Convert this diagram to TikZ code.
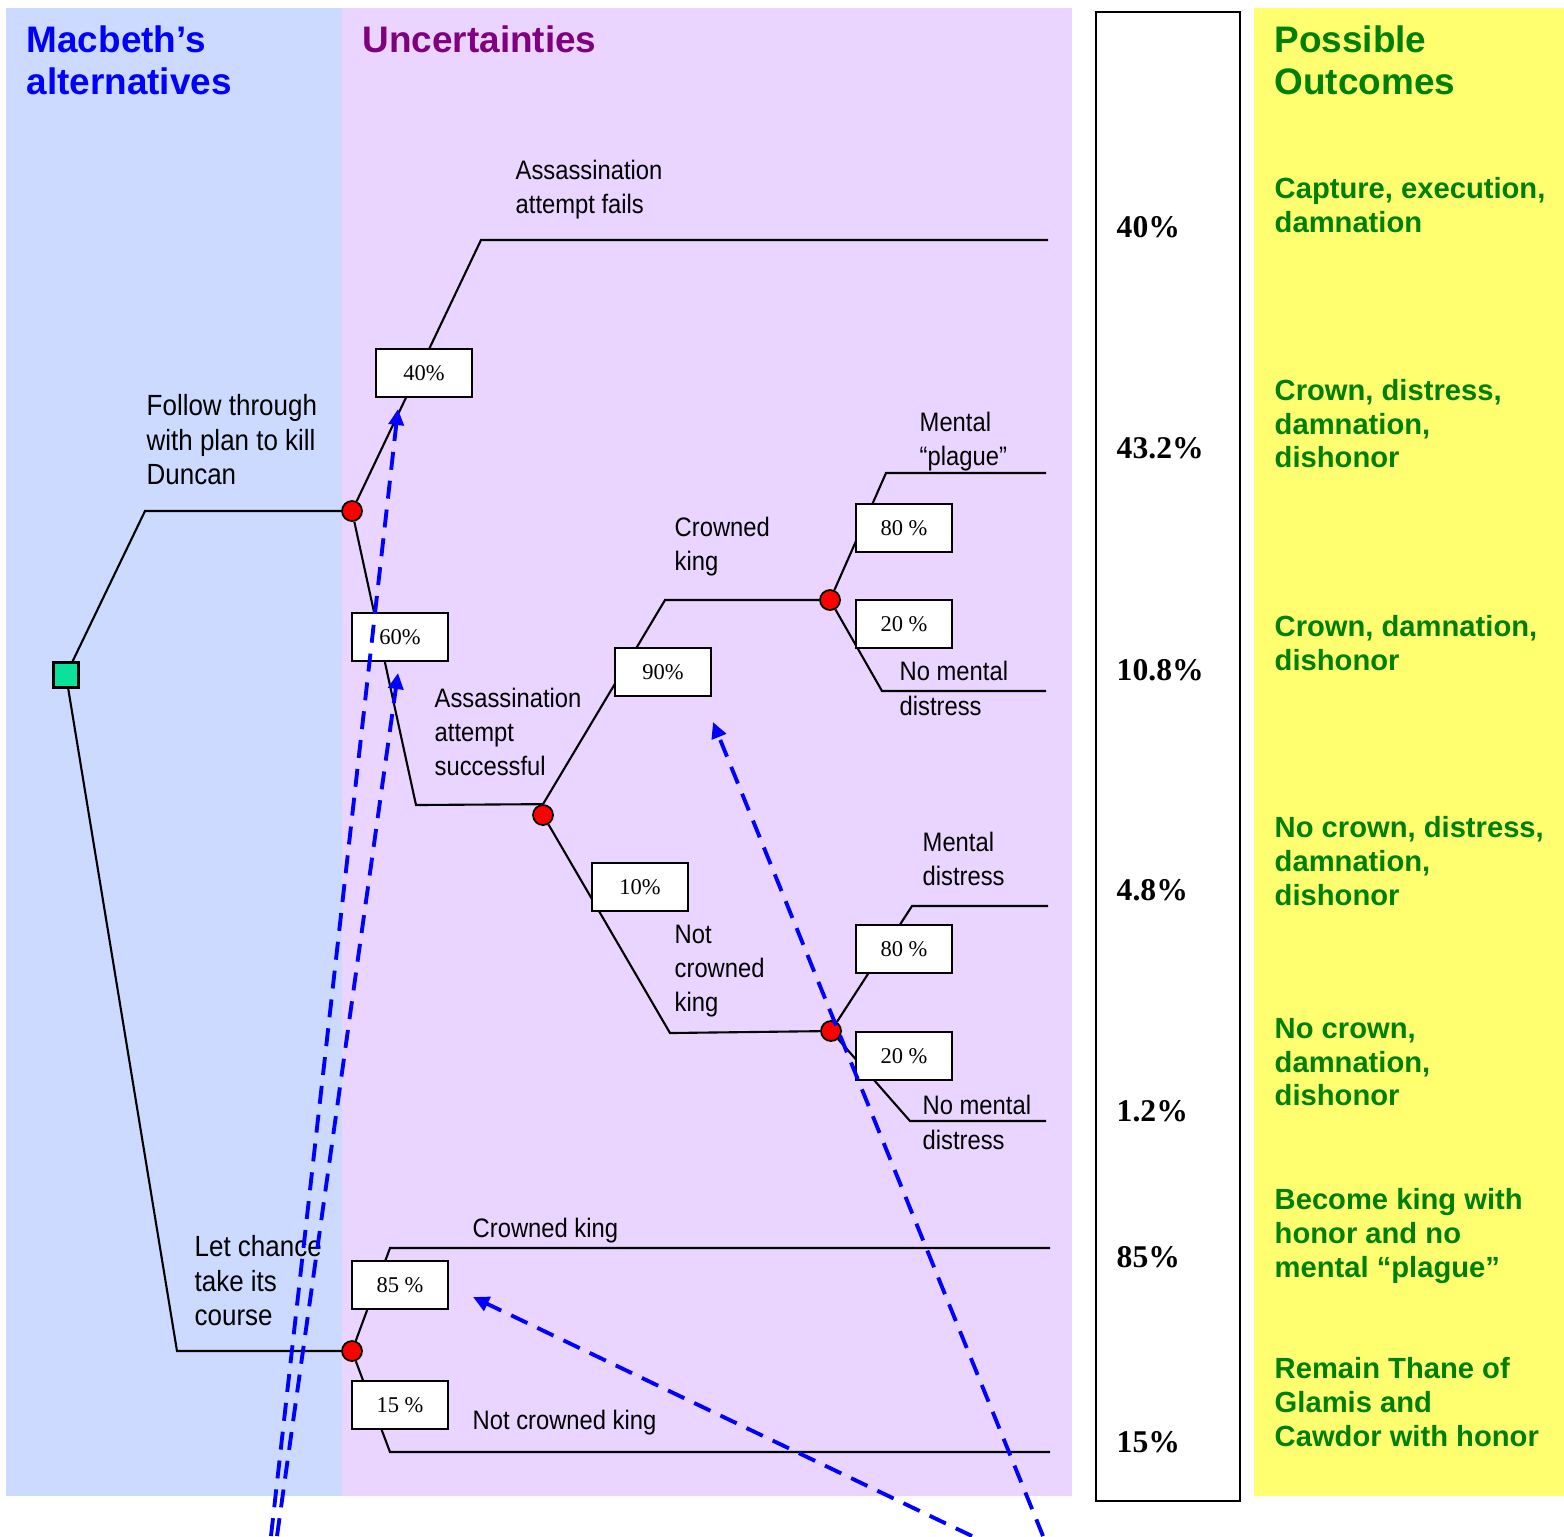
\documentclass[tikz,border=0pt]{standalone}
\usepackage{fontspec}
\setmainfont{Liberation Serif}
\newfontfamily\headfont{Liberation Sans}
\newfontfamily\narrowfont[FakeStretch=0.89]{Liberation Sans}
\usetikzlibrary{arrows.meta}

\definecolor{altblue}{RGB}{204,218,255}
\definecolor{uncpurple}{RGB}{233,213,255}
\definecolor{outyellow}{RGB}{255,255,112}
\definecolor{hdpurple}{RGB}{128,0,128}
\definecolor{outgreen}{RGB}{0,128,0}
\definecolor{decgreen}{RGB}{10,225,155}

\begin{document}
\begin{tikzpicture}[x=0.1mm,y=-0.1mm,
  branch/.style={line width=0.6pt, black, line join=miter},
  probbox/.style={draw, line width=0.6pt, fill=white, minimum width=9.6mm,
    minimum height=4.8mm, inner sep=0pt, font=\fontsize{6.4}{7}\selectfont},
  chance/.style={circle, draw, fill=red, line width=0.5pt, minimum size=2mm, inner sep=0pt},
  decision/.style={rectangle, draw, fill=decgreen, line width=0.6pt, minimum size=2.5mm, inner sep=0pt},
  lbl/.style={anchor=north west, inner sep=0pt, align=left,
    font=\narrowfont\fontsize{7.6}{9.7}\selectfont},
  lblbig/.style={anchor=north west, inner sep=0pt, align=left,
    font=\narrowfont\fontsize{8.3}{9.8}\selectfont},
  lblone/.style={anchor=base west, inner sep=0pt, font=\narrowfont\fontsize{7.6}{9.7}\selectfont},
  outc/.style={anchor=north west, inner sep=0pt, align=left, text=outgreen,
    font=\headfont\bfseries\fontsize{8.3}{9.55}\selectfont},
  head/.style={inner sep=0pt, align=left, font=\headfont\bfseries\fontsize{10.5}{11.95}\selectfont},
  pct/.style={anchor=base west, inner sep=0pt, font=\bfseries\fontsize{9}{10}\selectfont},
  hint/.style={blue, line width=1.1pt, dash pattern=on 1.8mm off 1.1mm,
    -{Triangle[width=1.5mm,length=1.6mm]}}]

\useasboundingbox (0,0) rectangle (1564,1536);

% column panels
\fill[altblue] (6,8) rectangle (342,1496);
\fill[uncpurple] (342,8) rectangle (1072,1496);
\fill[outyellow] (1254,8) rectangle (1564,1496);
\draw[line width=0.8pt, fill=white] (1096,12) rectangle (1240,1501);

% headings
\node[head, anchor=north west, text=blue] (hAlt) at (26,25) {Macbeth’s\\alternatives};
\node[head, anchor=base west, text=hdpurple] (hUnc) at (362,52) {Uncertainties};
\node[head, anchor=north west, text=outgreen] (hOut) at (1274,25) {Possible\\Outcomes};

% decision and chance nodes
\node[decision] (dec) at (66,675) {};
\node[chance] (c1) at (352,511) {};
\node[chance] (c2) at (543,815) {};
\node[chance] (c3) at (830,600) {};
\node[chance] (c4) at (831,1031) {};
\node[chance] (c5) at (352,1351) {};

% bends and leaf ends of the branches
\coordinate (j1) at (145,511);
\coordinate (j2) at (177,1351);
\coordinate (k1) at (481,240);   \coordinate (e1) at (1048,240);
\coordinate (k2) at (416,805);
\coordinate (k3) at (665,600);
\coordinate (k4) at (670,1033);
\coordinate (k5) at (886,473);   \coordinate (e5) at (1046,473);
\coordinate (k6) at (882,691);   \coordinate (e6) at (1046,691);
\coordinate (k7) at (912,906);   \coordinate (e7) at (1048,906);
\coordinate (k8) at (910,1121);  \coordinate (e8) at (1046,1121);
\coordinate (k9) at (390,1248);  \coordinate (e9) at (1050,1248);
\coordinate (k10) at (390,1452); \coordinate (e10) at (1050,1452);

% branches
\draw[branch] (dec) -- (j1) -- (c1);
\draw[branch] (dec) -- (j2) -- (c5);
\draw[branch] (c1) -- (k1) -- (e1);
\draw[branch] (c1) -- (k2) -- (c2.north);
\draw[branch] (c2.north) -- (k3) -- (c3);
\draw[branch] (c2) -- (k4) -- (c4);
\draw[branch] (c3) -- (k5) -- (e5);
\draw[branch] (c3) -- (k6) -- (e6);
\draw[branch] (c4) -- (k7) -- (e7);
\draw[branch] (c4) -- (k8) -- (e8);
\draw[branch] (c5) -- (k9) -- (e9);
\draw[branch] (c5) -- (k10) -- (e10);

% probabilities on the branches
\node[probbox] (p40) at (424,373) {40\%};
\node[probbox] (p60) at (400,637) {60\%};
\node[probbox] (p90) at (663,672) {90\%};
\node[probbox] (p10) at (640,887) {10\%};
\node[probbox] (p80a) at (904,528) {80 \%};
\node[probbox] (p20a) at (904,624) {20 \%};
\node[probbox] (p80b) at (904,949) {80 \%};
\node[probbox] (p20b) at (904,1056) {20 \%};
\node[probbox] (p85) at (400,1285) {85 \%};
\node[probbox] (p15) at (400,1405) {15 \%};

% branch labels
\node[lbl] (lFail) at (515,159) {Assassination\\attempt fails};
\node[lblbig] (lFollow) at (146,394) {Follow through\\with plan to kill\\Duncan};
\node[lbl] (lPlague) at (919,411) {Mental\\“plague”};
\node[lbl] (lCrown) at (674,516) {Crowned\\king};
\node[lbl, font=\narrowfont\fontsize{7.6}{10.2}\selectfont] (lNoDist1) at (899,660) {No mental\\distress};
\node[lbl] (lSucc) at (434,687) {Assassination\\attempt\\successful};
\node[lbl] (lDist) at (922,831) {Mental\\distress};
\node[lbl] (lNotCrown) at (674,924) {Not\\crowned\\king};
\node[lbl, font=\narrowfont\fontsize{7.6}{10}\selectfont] (lNoDist2) at (922,1094) {No mental\\distress};
\node[lblone] (lCrownKing) at (472,1237) {Crowned king};
\node[lblbig] (lChance) at (194,1235) {Let chance\\take its\\course};
\node[lblone] (lNotCrownKing) at (472,1429) {Not crowned king};

% overall probabilities
\node[pct] (q1) at (1116,237) {40\%};
\node[pct] (q2) at (1116,458) {43.2\%};
\node[pct] (q3) at (1116,680) {10.8\%};
\node[pct] (q4) at (1116,900) {4.8\%};
\node[pct] (q5) at (1116,1121) {1.2\%};
\node[pct] (q6) at (1116,1267) {85\%};
\node[pct] (q7) at (1116,1452) {15\%};

% outcomes
\node[outc] (o1) at (1274,177) {Capture, execution,\\damnation};
\node[outc] (o2) at (1274,379) {Crown, distress,\\damnation,\\dishonor};
\node[outc] (o3) at (1274,615) {Crown, damnation,\\dishonor};
\node[outc] (o4) at (1274,816) {No crown, distress,\\damnation,\\dishonor};
\node[outc] (o5) at (1274,1018) {No crown,\\damnation,\\dishonor};
\node[outc] (o6) at (1274,1188) {Become king with\\honor and no\\mental “plague”};
\node[outc] (o7) at (1274,1357) {Remain Thane of\\Glamis and\\Cawdor with honor};

% dashed pointers
\coordinate (h1) at (271,1536); \coordinate (t1) at (398,409);
\coordinate (h2) at (277,1536); \coordinate (t2) at (398,673);
\coordinate (h3) at (1043,1536); \coordinate (t3) at (713,722);
\coordinate (h4) at (972,1536); \coordinate (t4) at (473,1297);
\draw[hint] (h1) -- (t1);
\draw[hint] (h2) -- (t2);
\draw[hint] (h3) -- (t3);
\draw[hint] (h4) -- (t4);
\end{tikzpicture}
\end{document}
